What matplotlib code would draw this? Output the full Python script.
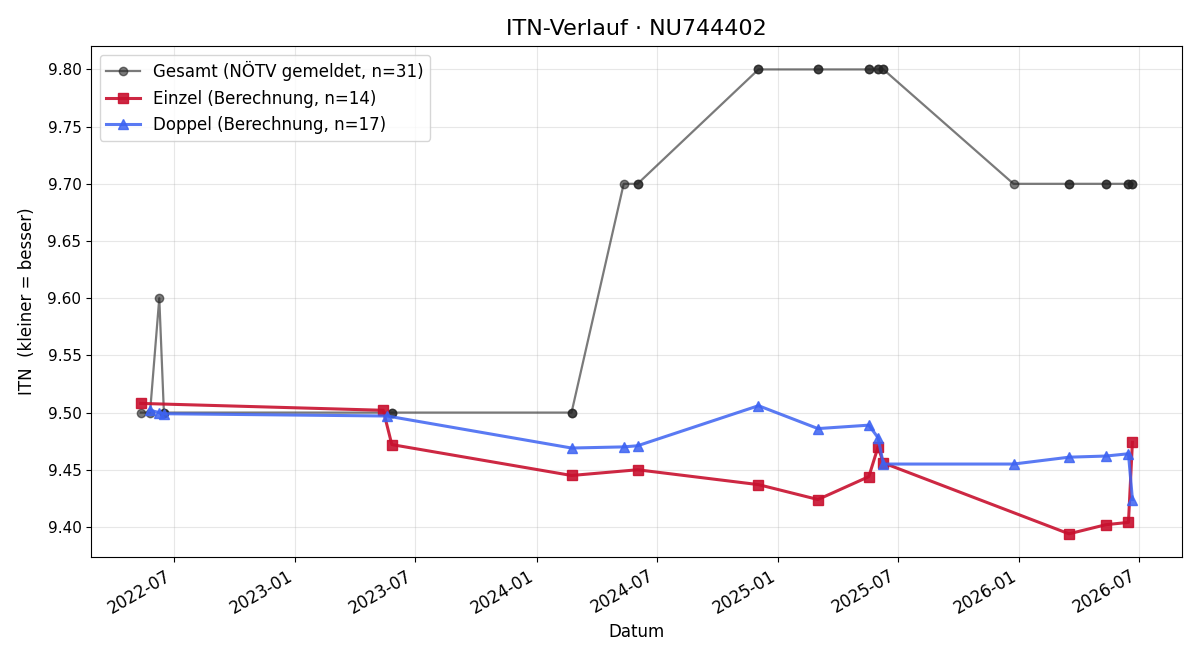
import matplotlib.pyplot as plt
import matplotlib.dates as mdates
import pandas as pd

# Gesamt (NÖTV gemeldet) - some dates appear twice
gesamt_dates = ['2022-05-12', '2022-05-26', '2022-06-09', '2022-06-16', '2022-06-16',
                '2023-05-27', '2023-05-27', '2024-02-23', '2024-02-23', '2024-05-12',
                '2024-06-02', '2024-06-02', '2024-12-02', '2024-12-02', '2025-03-02',
                '2025-03-02', '2025-05-18', '2025-05-18', '2025-06-01', '2025-06-01',
                '2025-06-09', '2025-06-09', '2025-12-23', '2026-03-17', '2026-03-17',
                '2026-05-12', '2026-05-12', '2026-06-15', '2026-06-15', '2026-06-21',
                '2026-06-21']
gesamt_itn = [9.50, 9.50, 9.60, 9.50, 9.50,
              9.50, 9.50, 9.50, 9.50, 9.70,
              9.70, 9.70, 9.80, 9.80, 9.80,
              9.80, 9.80, 9.80, 9.80, 9.80,
              9.80, 9.80, 9.70, 9.70, 9.70,
              9.70, 9.70, 9.70, 9.70, 9.70,
              9.70]

einzel_dates = ['2022-05-12', '2023-05-14', '2023-05-27', '2024-02-23', '2024-06-02',
                '2024-12-02', '2025-03-02', '2025-05-18', '2025-06-01', '2025-06-09',
                '2026-03-17', '2026-05-12', '2026-06-15', '2026-06-21']
einzel_itn = [9.508, 9.502, 9.472, 9.445, 9.450,
              9.437, 9.424, 9.444, 9.470, 9.456,
              9.394, 9.402, 9.404, 9.474]

doppel_dates = ['2022-05-26', '2022-06-09', '2022-06-16', '2023-05-20', '2024-02-23',
                '2024-05-12', '2024-06-02', '2024-12-02', '2025-03-02', '2025-05-18',
                '2025-06-01', '2025-06-09', '2025-12-23', '2026-03-17', '2026-05-12',
                '2026-06-15', '2026-06-21']
doppel_itn = [9.502, 9.500, 9.499, 9.497, 9.469,
              9.470, 9.471, 9.506, 9.486, 9.489,
              9.478, 9.455, 9.455, 9.461, 9.462,
              9.464, 9.424]

fig, ax = plt.subplots(figsize=(12, 6.6), dpi=100)

ax.plot(pd.to_datetime(gesamt_dates), gesamt_itn, marker='o', markersize=6, linewidth=1.6,
        color='#222222', alpha=0.6, label=f'Gesamt (NÖTV gemeldet, n={len(gesamt_itn)})')
ax.plot(pd.to_datetime(einzel_dates), einzel_itn, marker='s', markersize=7, linewidth=2.2,
        color='#c8102e', alpha=0.9, label=f'Einzel (Berechnung, n={len(einzel_itn)})')
ax.plot(pd.to_datetime(doppel_dates), doppel_itn, marker='^', markersize=7, linewidth=2.2,
        color='#3d63f2', alpha=0.85, label=f'Doppel (Berechnung, n={len(doppel_itn)})')

ax.set_title('ITN-Verlauf · NU744402', fontsize=16, pad=8)
ax.set_xlabel('Datum', fontsize=12)
ax.set_ylabel('ITN  (kleiner = besser)', fontsize=12, labelpad=8)
ax.tick_params(axis='y', labelsize=11)
ax.tick_params(axis='x', labelsize=12)
ax.grid(True, alpha=0.3)
ax.legend(loc='upper left', fontsize=12)

ax.xaxis.set_major_locator(mdates.MonthLocator(bymonth=[1, 7]))
ax.xaxis.set_major_formatter(mdates.DateFormatter('%Y-%m'))
fig.autofmt_xdate()

fig.subplots_adjust(left=0.076, right=0.985, top=0.930, bottom=0.156)
fig.savefig('out.png')
